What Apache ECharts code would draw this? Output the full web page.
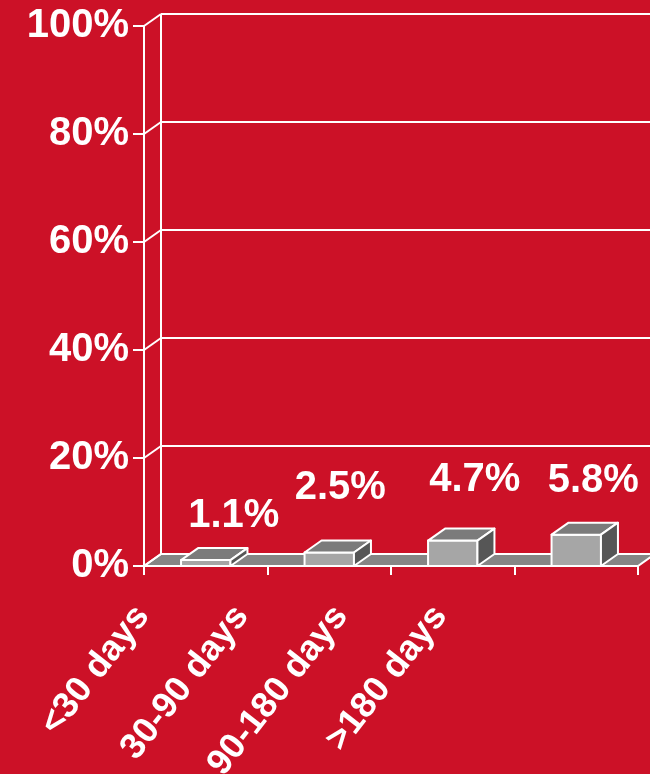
<!DOCTYPE html>
<html>
<head>
<meta charset="utf-8">
<script src="https://cdn.jsdelivr.net/npm/echarts@6/dist/echarts.min.js"></script>
<style>
  html, body { margin: 0; padding: 0; background: #CC1127; }
  #chart { width: 650px; height: 774px; }
</style>
</head>
<body>
<div id="chart"></div>
<script>
// Share of cases by time band
const categories = ['<30 days', '30-90 days', '90-180 days', '>180 days'];
const values = [1.1, 2.5, 4.7, 5.8];
const yTicks = [0, 20, 40, 60, 80, 100];

// Pseudo-3D depth of the box frame and bars
const DX = 17;
const DY = -12;
const FONT = 'Liberation Sans, Arial, sans-serif';
// Small nudges for each value label, relative to the bar's back top edge
const labelNudge = [[28, -32], [11, -53], [22, -49], [17, -42]];

const chart = echarts.init(document.getElementById('chart'), null, { renderer: 'canvas' });

function frameItem(params, api) {
  if (params.dataIndex !== 0) return null;
  const cs = params.coordSys;
  const L = cs.x, R = cs.x + cs.width;
  const B = api.coord([0, 0])[1];
  const W = api.getWidth();
  const line = { stroke: '#ffffff', lineWidth: 2 };
  const children = [];
  children.push({
    type: 'polygon',
    shape: { points: [[L, B], [R, B], [R + DX, B + DY], [L + DX, B + DY]] },
    style: { fill: '#858585', stroke: '#ffffff', lineWidth: 2 }
  });
  const yTop = api.coord([0, yTicks[yTicks.length - 1]])[1];
  children.push({ type: 'line', shape: { x1: L + DX, y1: yTop + DY, x2: L + DX, y2: B + DY }, style: line });
  yTicks.forEach(function (v) {
    const y = api.coord([0, v])[1];
    children.push({ type: 'line', shape: { x1: L, y1: y, x2: L + DX, y2: y + DY }, style: line });
    if (v > 0) {
      children.push({ type: 'line', shape: { x1: L + DX, y1: y + DY, x2: W, y2: y + DY }, style: line });
    }
  });
  return { type: 'group', children: children };
}

function boxItem(params, api) {
  const i = api.value(0);
  const v = api.value(1);
  const cx = api.coord([i, 0])[0];
  const B = api.coord([i, 0])[1];
  const T = api.coord([i, v])[1];
  const w = api.size([1, 0])[0] * 0.4;
  const l = cx - w / 2, r = cx + w / 2;
  const edge = { stroke: '#ffffff', lineWidth: 2, lineJoin: 'round' };
  const n = labelNudge[params.dataIndex];
  return {
    type: 'group',
    children: [
      { type: 'polygon', shape: { points: [[l, T], [r, T], [r, B], [l, B]] },
        style: Object.assign({ fill: '#a6a6a6' }, edge) },
      { type: 'polygon', shape: { points: [[l, T], [r, T], [r + DX, T + DY], [l + DX, T + DY]] },
        style: Object.assign({ fill: '#7b7b7b' }, edge) },
      { type: 'polygon', shape: { points: [[r, T], [r, B], [r + DX, B + DY], [r + DX, T + DY]] },
        style: Object.assign({ fill: '#565656' }, edge) },
      { type: 'text', x: cx + n[0], y: T + DY + n[1],
        style: { text: v + '%', fill: '#ffffff', font: 'bold 40px ' + FONT,
                 align: 'center', verticalAlign: 'middle' } }
    ]
  };
}

const option = {
  backgroundColor: '#CC1127',
  animation: false,
  grid: [
    { left: 144, right: 12, top: 26, bottom: 208, outerBoundsMode: 'none' },
    { left: 93, right: 160, top: 26, bottom: 208, outerBoundsMode: 'none' }
  ],
  xAxis: [
    {
      type: 'category', gridIndex: 0, data: categories,
      axisLine: { lineStyle: { color: '#ffffff', width: 2 } },
      axisTick: { show: true, length: 9, lineStyle: { color: '#ffffff', width: 2 } },
      axisLabel: { show: false }
    },
    {
      type: 'category', gridIndex: 1, data: categories,
      axisLine: { show: false }, axisTick: { show: false },
      axisLabel: { rotate: 52, margin: 44, color: '#ffffff', fontSize: 36,
                   fontWeight: 'bold', fontFamily: FONT }
    }
  ],
  yAxis: [
    {
      type: 'value', gridIndex: 0, min: 0, max: 100, interval: 20,
      axisLine: { show: true, lineStyle: { color: '#ffffff', width: 2 } },
      axisTick: { show: true, length: 11, lineStyle: { color: '#ffffff', width: 2 } },
      splitLine: { show: false },
      axisLabel: { formatter: '{value}%', margin: 15, color: '#ffffff', fontSize: 40,
                   fontWeight: 'bold', fontFamily: FONT }
    },
    { type: 'value', gridIndex: 1, min: 0, max: 100, show: false }
  ],
  series: [
    {
      type: 'custom', name: 'frame', xAxisIndex: 0, yAxisIndex: 0, z: 1,
      renderItem: frameItem, data: [[0, 0]]
    },
    {
      type: 'custom', name: 'share', xAxisIndex: 0, yAxisIndex: 0, z: 3,
      renderItem: boxItem,
      data: values.map(function (v, i) { return [i, v]; })
    }
  ]
};

chart.setOption(option);
</script>
</body>
</html>
